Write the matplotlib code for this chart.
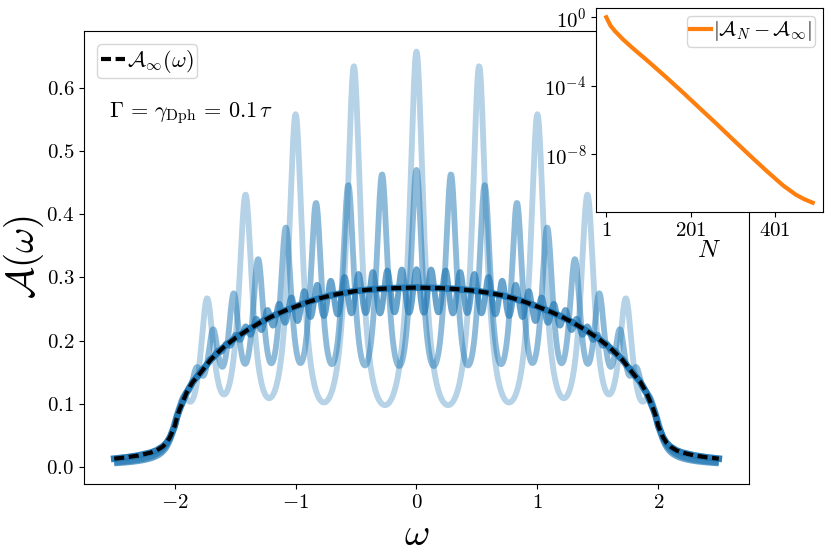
import numpy as np
import matplotlib
matplotlib.use("Agg")
import matplotlib.pyplot as plt

plt.rcParams.update({
    "font.family": "serif",
    "font.serif": ["cmr10"],
    "mathtext.fontset": "cm",
    "axes.formatter.use_mathtext": True,
})

# ---------------- data ----------------
# smooth infinite-chain spectral function A_inf(omega)
omega_inf = [-2.5, -2.4, -2.3, -2.2, -2.15, -2.1, -2.07, -2.04, -2.02, -2.0,
             -1.98, -1.96, -1.93, -1.9, -1.85, -1.8, -1.7, -1.6, -1.5, -1.4,
             -1.3, -1.2, -1.1, -1.0, -0.9, -0.8, -0.7, -0.6, -0.5, -0.4,
             -0.3, -0.2, -0.1, 0.0, 0.1, 0.2, 0.3, 0.4, 0.5, 0.6,
             0.7, 0.8, 0.9, 1.0, 1.1, 1.2, 1.3, 1.4, 1.5, 1.6,
             1.7, 1.8, 1.85, 1.9, 1.93, 1.96, 1.98, 2.0, 2.02, 2.04,
             2.07, 2.1, 2.15, 2.2, 2.3, 2.4, 2.5]
A_inf = [0.0135, 0.0156, 0.0185, 0.0230, 0.0265, 0.0325, 0.0380, 0.0470, 0.0560, 0.0650,
         0.0800, 0.0910, 0.1050, 0.1187, 0.1350, 0.1460, 0.1705, 0.1890, 0.2040, 0.2165,
         0.2280, 0.2380, 0.2465, 0.2540, 0.2610, 0.2670, 0.2720, 0.2755, 0.2785, 0.2805,
         0.2820, 0.2830, 0.2835, 0.2840, 0.2835, 0.2830, 0.2820, 0.2805, 0.2785, 0.2755,
         0.2720, 0.2670, 0.2610, 0.2540, 0.2465, 0.2380, 0.2280, 0.2165, 0.2040, 0.1890,
         0.1705, 0.1460, 0.1350, 0.1187, 0.1050, 0.0910, 0.0800, 0.0650, 0.0560, 0.0470,
         0.0380, 0.0325, 0.0265, 0.0230, 0.0185, 0.0156, 0.0135]
# the longest chain (N = 491) lies on top of A_inf at this scale
A_N491 = list(A_inf)

# finite chains: resonance positions and peak heights
peaks_N11 = [-1.932, -1.732, -1.414, -1.0, -0.518, 0.0, 0.518, 1.0, 1.414, 1.732, 1.932]
heights_N11 = [0.110, 0.267, 0.431, 0.558, 0.634, 0.657, 0.634, 0.558, 0.431, 0.267, 0.110]
width_N11 = 0.070

peaks_N21 = [-1.980, -1.919, -1.819, -1.683, -1.512, -1.310, -1.081, -0.831, -0.564, -0.285, 0.0,
             0.285, 0.564, 0.831, 1.081, 1.310, 1.512, 1.683, 1.819, 1.919, 1.980]
heights_N21 = [0.085, 0.115, 0.158, 0.218, 0.275, 0.329, 0.379, 0.418, 0.446, 0.463, 0.470,
               0.463, 0.446, 0.418, 0.379, 0.329, 0.275, 0.218, 0.158, 0.115, 0.085]
width_N21 = 0.062

peaks_N51_pos = [0.0, 0.121, 0.241, 0.361, 0.479, 0.595, 0.709, 0.821, 0.929, 1.035,
                 1.136, 1.233, 1.326, 1.414, 1.497, 1.574, 1.646, 1.711, 1.771, 1.823,
                 1.870, 1.910, 1.942, 1.967, 1.985, 1.996]
heights_N51_pos = [0.313, 0.3125, 0.311, 0.3086, 0.3055, 0.3008, 0.2948, 0.2884, 0.2784, 0.2684,
                   0.2584, 0.2486, 0.2347, 0.2226, 0.2096, 0.1955, 0.1842, 0.1704, 0.1556, 0.1423,
                   0.128, 0.115, 0.101, 0.088, 0.077, 0.070]
peaks_N51 = [-p for p in peaks_N51_pos[:0:-1]] + peaks_N51_pos
heights_N51 = heights_N51_pos[:0:-1] + heights_N51_pos
width_N51 = 0.054

# inset: convergence |A_N - A_inf|
N_inset = [1, 11, 21, 41, 61, 81, 101, 141, 181, 221, 261, 301, 341, 381, 421, 451, 471, 491]
err_inset = [1.0, 3.2e-1, 1.6e-1, 5.0e-2, 1.8e-2, 6.8e-3, 2.6e-3, 3.5e-4, 4.5e-5, 5.4e-6,
             6.6e-7, 7.6e-8, 8.9e-9, 1.1e-9, 1.5e-10, 4.4e-11, 2.4e-11, 1.5e-11]

omega_range = (-2.5, 2.5)


def lorentz(x, c, g):
    return (g / np.pi) / ((x - c) ** 2 + g ** 2)


def resonance_curve(peaks, heights, g, w):
    """Sum of Lorentzian resonances whose peak values match the read heights."""
    p = np.asarray(peaks)
    h = np.asarray(heights)
    M = lorentz(p[:, None], p[None, :], g)
    a = h * np.pi * g * 0.5
    for _ in range(3000):
        a *= h / (M @ a)
    return lorentz(w[:, None], p[None, :], g) @ a


w = np.linspace(omega_range[0], omega_range[1], 1201)
curves = [
    resonance_curve(peaks_N11, heights_N11, width_N11, w),
    resonance_curve(peaks_N21, heights_N21, width_N21, w),
    resonance_curve(peaks_N51, heights_N51, width_N51, w),
]
alphas = [0.33, 0.5, 0.67]

fig = plt.figure(figsize=(8.31, 5.58), dpi=100)
ax = fig.add_axes([0.1011, 0.1326, 0.8002, 0.8118])

for c, al in zip(curves, alphas):
    ax.plot(w, c, color="tab:blue", alpha=al, lw=4.2, solid_capstyle="butt")
ax.plot(omega_inf, A_N491, color="tab:blue", alpha=0.95, lw=4.8)
ax.plot(omega_inf, A_inf, color="black", lw=3, linestyle=(0, (2.4, 1.1)),
        label=r"$\mathcal{A}_{\infty}(\omega)$")

ax.set_xticks([-2, -1, 0, 1, 2])
ax.set_yticks([0.0, 0.1, 0.2, 0.3, 0.4, 0.5, 0.6])
ax.tick_params(labelsize=15)
ax.set_xlabel(r"$\omega$", fontsize=28)
ax.set_ylabel(r"$\mathcal{A}(\omega)$", fontsize=28, labelpad=0)
ax.legend(loc="upper left", fontsize=16, handlelength=1.1, handletextpad=0.1,
          borderpad=0.15, borderaxespad=0.6)
ax.text(0.037, 0.81, r"$\Gamma\,=\,\gamma_{\mathrm{Dph}}\,=\,0.1\,\tau$",
        transform=ax.transAxes, fontsize=16)

ins = fig.add_axes([0.7172, 0.6201, 0.2732, 0.3656])
ins.semilogy(N_inset, err_inset, color="tab:orange", lw=3,
             label=r"$|\mathcal{A}_N-\mathcal{A}_{\infty}|$")
ins.set_xticks([1, 201, 401])
ins.set_yticks([1.0, 1e-4, 1e-8])
ins.yaxis.set_minor_locator(matplotlib.ticker.NullLocator())
ins.tick_params(labelsize=15)
ins.set_xlabel(r"$N$", fontsize=18, labelpad=0)
ins.legend(loc="upper right", fontsize=15, handlelength=1.0, handletextpad=0.1,
           borderpad=0.15, borderaxespad=0.4)

fig.savefig("out.png", dpi=100)
